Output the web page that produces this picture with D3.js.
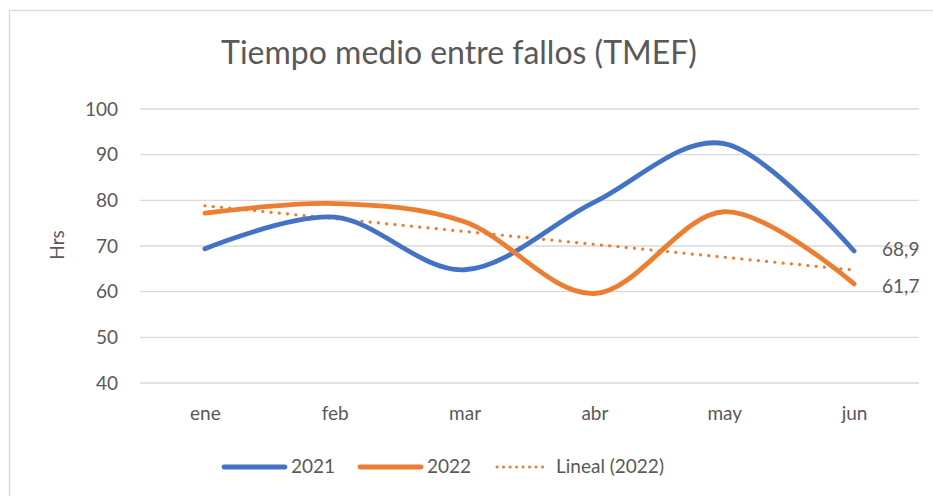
<!doctype html>
<html lang="es">
<head>
<meta charset="utf-8">
<title>Tiempo medio entre fallos (TMEF)</title>
<script src="https://cdn.jsdelivr.net/npm/d3@7"></script>
<style>
  body { margin: 0; background: #fff; }
  text { font-family: Lato, "Open Sans", sans-serif; fill: #595959; }
</style>
</head>
<body>
<script>
    // data
    var months = ["ene", "feb", "mar", "abr", "may", "jun"];
    var serie2021 = [69.4, 76.3, 64.8, 79.6, 92.4, 68.9];
    var serie2022 = [77.2, 79.3, 75.3, 59.6, 77.5, 61.7];
    var yTicks = [40, 50, 60, 70, 80, 90, 100];

    var W = 933, H = 496;
    var plotL = 140, plotR = 919, plotT = 109, plotB = 383;
    var fs = "19px";

    var svg = d3.select("body").append("svg")
        .attr("width", W).attr("height", H);

    // chart border
    svg.append("rect")
        .attr("x", 9.5).attr("y", 10.5)
        .attr("width", W).attr("height", H)
        .attr("fill", "none").attr("stroke", "#d9d9d9").attr("stroke-width", 1.3);

    var x = d3.scalePoint().domain(months).range([plotL, plotR]).padding(0.5);
    var y = d3.scaleLinear().domain([40, 100]).range([plotB, plotT]);

    // gridlines
    svg.append("g").selectAll("line")
        .data(yTicks).enter().append("line")
        .attr("x1", plotL).attr("x2", plotR)
        .attr("y1", function(d){ return y(d); })
        .attr("y2", function(d){ return y(d); })
        .attr("stroke", "#d9d9d9").attr("stroke-width", 1.4);

    // y axis labels
    var yAxis = svg.append("g")
        .attr("transform", "translate(" + (plotL - 10) + ",0)")
        .call(d3.axisLeft(y).tickValues(yTicks).tickSize(0).tickPadding(12));
    yAxis.select(".domain").remove();
    yAxis.selectAll("text").style("font-size", fs).attr("fill", "#595959");

    // x axis labels
    var xAxis = svg.append("g")
        .attr("transform", "translate(0," + (plotB + 18) + ")")
        .call(d3.axisBottom(x).tickSize(0).tickPadding(6));
    xAxis.select(".domain").remove();
    xAxis.selectAll("text").style("font-size", fs).attr("fill", "#595959");

    svg.append("text")
        .attr("transform", "translate(64,245) rotate(-90)")
        .attr("text-anchor", "middle")
        .style("font-size", fs)
        .text("Hrs");

    svg.append("text")
        .attr("x", 459).attr("y", 64)
        .attr("text-anchor", "middle")
        .style("font-size", "32px")
        .text("Tiempo medio entre fallos (TMEF)");

    // linear trendline of 2022 (least squares, as the spreadsheet does)
    var idx = d3.range(1, months.length + 1);
    var mx = d3.mean(idx), my = d3.mean(serie2022);
    var slope = d3.sum(idx, function(k, i){ return (k - mx) * (serie2022[i] - my); }) /
                d3.sum(idx, function(k){ return (k - mx) * (k - mx); });
    var trend = idx.map(function(k){ return my + slope * (k - mx); });

    var line = d3.line()
        .x(function(d, i){ return x(months[i]); })
        .y(function(d){ return y(d); })
        .curve(d3.curveCardinal.tension(0));

    var straight = d3.line()
        .x(function(d, i){ return x(months[i]); })
        .y(function(d){ return y(d); });

    svg.append("path")
        .attr("d", straight(trend))
        .attr("fill", "none").attr("stroke", "#ED7D31")
        .attr("stroke-width", 3.2).attr("stroke-linecap", "round")
        .attr("stroke-dasharray", "0.1 8.2");

    svg.append("path")
        .attr("d", line(serie2021))
        .attr("fill", "none").attr("stroke", "#4472C4")
        .attr("stroke-width", 4.8).attr("stroke-linecap", "round");

    svg.append("path")
        .attr("d", line(serie2022))
        .attr("fill", "none").attr("stroke", "#ED7D31")
        .attr("stroke-width", 4.8).attr("stroke-linecap", "round");

    // end labels
    var fmt = function(v){ return String(v).replace(".", ","); };
    svg.append("text")
        .attr("x", x("jun") + 28).attr("y", y(serie2021[5]) + 5)
        .style("font-size", fs).text(fmt(serie2021[5]));
    svg.append("text")
        .attr("x", x("jun") + 28).attr("y", y(serie2022[5]) + 9)
        .style("font-size", fs).text(fmt(serie2022[5]));

    // legend
    var legend = [
        {name: "2021", color: "#4472C4", x: 224, dots: false},
        {name: "2022", color: "#ED7D31", x: 360, dots: false},
        {name: "Lineal (2022)", color: "#ED7D31", x: 497, dots: true}
    ];
    var lg = svg.append("g").selectAll("g").data(legend).enter().append("g");
    lg.append("line")
        .attr("x1", function(d){ return d.x; })
        .attr("x2", function(d){ return d.x + (d.dots ? 52 : 61); })
        .attr("y1", 467).attr("y2", 467)
        .attr("stroke", function(d){ return d.color; })
        .attr("stroke-width", function(d){ return d.dots ? 3 : 4.8; })
        .attr("stroke-linecap", "round")
        .attr("stroke-dasharray", function(d){ return d.dots ? "0.1 6.4" : null; });
    lg.append("text")
        .attr("x", function(d){ return d.x + (d.dots ? 59 : 67); })
        .attr("y", 473)
        .style("font-size", fs)
        .text(function(d){ return d.name; });
</script>
</body>
</html>
